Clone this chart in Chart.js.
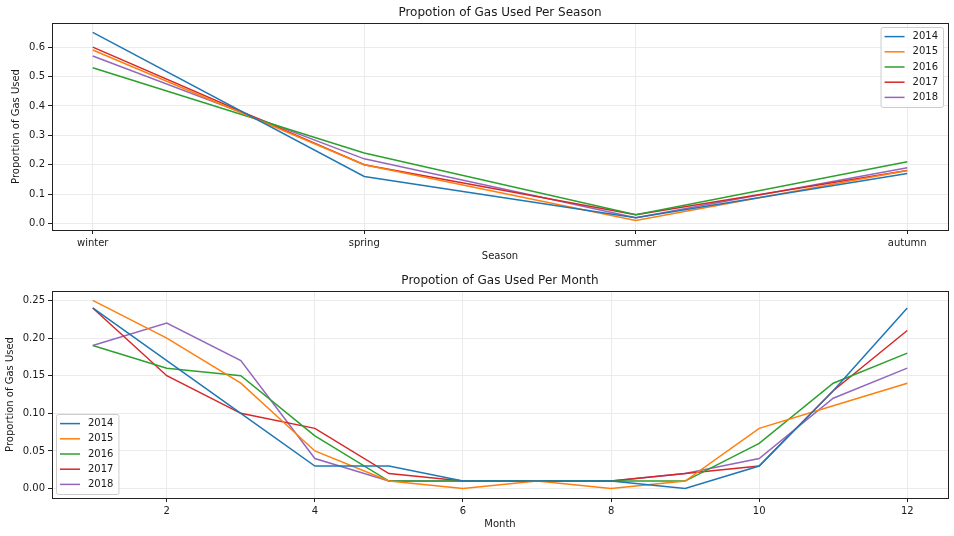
<!DOCTYPE html>
<html>
<head>
<meta charset="utf-8">
<script src="https://cdn.jsdelivr.net/npm/chart.js@4/dist/chart.umd.min.js"></script>
<style>
  body { margin: 0; background: #fff; }
  .panel { position: relative; width: 954px; height: 268px; }
</style>
</head>
<body>
<div class="panel"><canvas id="season-chart"></canvas></div>
<div class="panel"><canvas id="month-chart"></canvas></div>
<script>
const years = ['2014', '2015', '2016', '2017', '2018'];
const colors = ['#1f77b4', '#ff7f0e', '#2ca02c', '#d62728', '#9467bd'];

const seasons = ['winter', 'spring', 'summer', 'autumn'];
const season2014 = [0.65, 0.16, 0.02, 0.17];
const season2015 = [0.59, 0.20, 0.01, 0.18];
const season2016 = [0.53, 0.24, 0.03, 0.21];
const season2017 = [0.60, 0.20, 0.03, 0.18];
const season2018 = [0.57, 0.22, 0.02, 0.19];

const months = [1, 2, 3, 4, 5, 6, 7, 8, 9, 10, 11, 12];
const month2014 = [0.24, 0.17, 0.10, 0.03, 0.03, 0.01, 0.01, 0.01, 0.00, 0.03, 0.13, 0.24];
const month2015 = [0.25, 0.20, 0.14, 0.05, 0.01, 0.00, 0.01, 0.00, 0.01, 0.08, 0.11, 0.14];
const month2016 = [0.19, 0.16, 0.15, 0.07, 0.01, 0.01, 0.01, 0.01, 0.01, 0.06, 0.14, 0.18];
const month2017 = [0.24, 0.15, 0.10, 0.08, 0.02, 0.01, 0.01, 0.01, 0.02, 0.03, 0.13, 0.21];
const month2018 = [0.19, 0.22, 0.17, 0.04, 0.01, 0.01, 0.01, 0.01, 0.02, 0.04, 0.12, 0.16];

const seasonXTicks = [0, 1, 2, 3];
const seasonYTicks = [0, 0.1, 0.2, 0.3, 0.4, 0.5, 0.6];
const monthXTicks = [2, 4, 6, 8, 10, 12];
const monthYTicks = [0, 0.05, 0.1, 0.15, 0.2, 0.25];

Chart.defaults.font.family = "'DejaVu Sans', sans-serif";
Chart.defaults.font.size = 10;
Chart.defaults.color = '#1a1a1a';

// frame around the plot area plus a title centred over it (matplotlib style)
const frameBox = {
  id: 'frameBox',
  afterDatasetsDraw(chart, args, opts) {
    const { ctx, chartArea: a } = chart;
    ctx.save();
    ctx.strokeStyle = '#222';
    ctx.lineWidth = 1;
    ctx.strokeRect(Math.round(a.left) + 0.5, Math.round(a.top) + 0.5,
      Math.round(a.right - a.left), Math.round(a.bottom - a.top));
    ctx.font = "12px 'DejaVu Sans', sans-serif";
    ctx.fillStyle = '#1a1a1a';
    ctx.textAlign = 'center';
    ctx.textBaseline = 'middle';
    ctx.fillText(opts.title, (a.left + a.right) / 2, a.top - 10);
    ctx.restore();
  }
};

// legend drawn inside the plot area, like matplotlib's
const insideLegend = {
  id: 'insideLegend',
  afterDraw(chart, args, opts) {
    const { ctx, chartArea: a } = chart;
    const sets = chart.data.datasets;
    const rowH = 15.2;
    ctx.save();
    ctx.font = "10px 'DejaVu Sans', sans-serif";
    const tw = Math.max(...sets.map(d => ctx.measureText(d.label).width));
    const w = 4 + 20 + 8 + tw + 5;
    const h = sets.length * rowH + 4;
    const x = opts.corner === 'ur' ? a.right - 5 - w : a.left + 4;
    const y = opts.corner === 'ur' ? a.top + 4 : a.bottom - 4 - h;
    ctx.beginPath();
    ctx.roundRect(x + 0.5, y + 0.5, w, h, 2);
    ctx.fillStyle = 'rgba(255,255,255,0.8)';
    ctx.fill();
    ctx.strokeStyle = '#cccccc';
    ctx.lineWidth = 1;
    ctx.stroke();
    sets.forEach((d, i) => {
      const cy = y + 2 + rowH * (i + 0.5);
      ctx.beginPath();
      ctx.moveTo(x + 4, cy);
      ctx.lineTo(x + 24, cy);
      ctx.strokeStyle = d.borderColor;
      ctx.lineWidth = 1.5;
      ctx.stroke();
      ctx.fillStyle = '#1a1a1a';
      ctx.textBaseline = 'middle';
      ctx.fillText(d.label, x + 32, cy);
    });
    ctx.restore();
  }
};

function makeDatasets(xs, seriesList) {
  return seriesList.map((values, i) => ({
    label: years[i],
    data: values.map((v, j) => ({ x: xs[j], y: v })),
    borderColor: colors[i],
    backgroundColor: colors[i],
    borderWidth: 1.5,
    pointRadius: 0,
    tension: 0
  }));
}

function buildChart(canvasId, cfg) {
  const grid = {
    color: '#ebebeb',
    tickColor: '#222',
    tickLength: 4
  };
  return new Chart(document.getElementById(canvasId), {
    type: 'line',
    data: { datasets: cfg.datasets },
    options: {
      responsive: true,
      maintainAspectRatio: false,
      animation: false,
      layout: { padding: { left: cfg.padLeft, right: 6, top: 23, bottom: 0 } },
      plugins: {
        legend: { display: false },
        tooltip: { enabled: false },
        title: { display: false },
        frameBox: { title: cfg.title },
        insideLegend: { corner: cfg.legendCorner }
      },
      scales: {
        x: {
          type: 'linear',
          min: cfg.xMin,
          max: cfg.xMax,
          border: { display: false },
          grid,
          afterBuildTicks: scale => { scale.ticks = cfg.xTicks.map(v => ({ value: v })); },
          afterFit: scale => { scale.height = 38; },
          ticks: { padding: 3, maxRotation: 0, callback: cfg.xLabel },
          title: { display: true, text: cfg.xTitle, padding: { top: 0, bottom: 6 } }
        },
        y: {
          min: cfg.yMin,
          max: cfg.yMax,
          border: { display: false },
          grid,
          afterBuildTicks: scale => { scale.ticks = cfg.yTicks.map(v => ({ value: v })); },
          afterFit: scale => { scale.width = 52 - cfg.padLeft; },
          ticks: { padding: 3, callback: cfg.yLabel },
          title: { display: true, text: 'Proportion of Gas Used', padding: 4 }
        }
      }
    },
    plugins: [frameBox, insideLegend]
  });
}

buildChart('season-chart', {
  title: 'Propotion of Gas Used Per Season',
  datasets: makeDatasets(seasons.map((s, i) => i),
    [season2014, season2015, season2016, season2017, season2018]),
  xMin: -0.15, xMax: 3.15,
  yMin: -0.022, yMax: 0.682,
  xTicks: seasonXTicks,
  yTicks: seasonYTicks,
  xLabel: value => seasons[value],
  yLabel: value => value.toFixed(1),
  xTitle: 'Season',
  padLeft: 6,
  legendCorner: 'ur'
});

buildChart('month-chart', {
  title: 'Propotion of Gas Used Per Month',
  datasets: makeDatasets(months,
    [month2014, month2015, month2016, month2017, month2018]),
  xMin: 0.45, xMax: 12.55,
  yMin: -0.0125, yMax: 0.2625,
  xTicks: monthXTicks,
  yTicks: monthYTicks,
  xLabel: value => String(value),
  yLabel: value => value.toFixed(2),
  xTitle: 'Month',
  padLeft: 0,
  legendCorner: 'll'
});
</script>
</body>
</html>
